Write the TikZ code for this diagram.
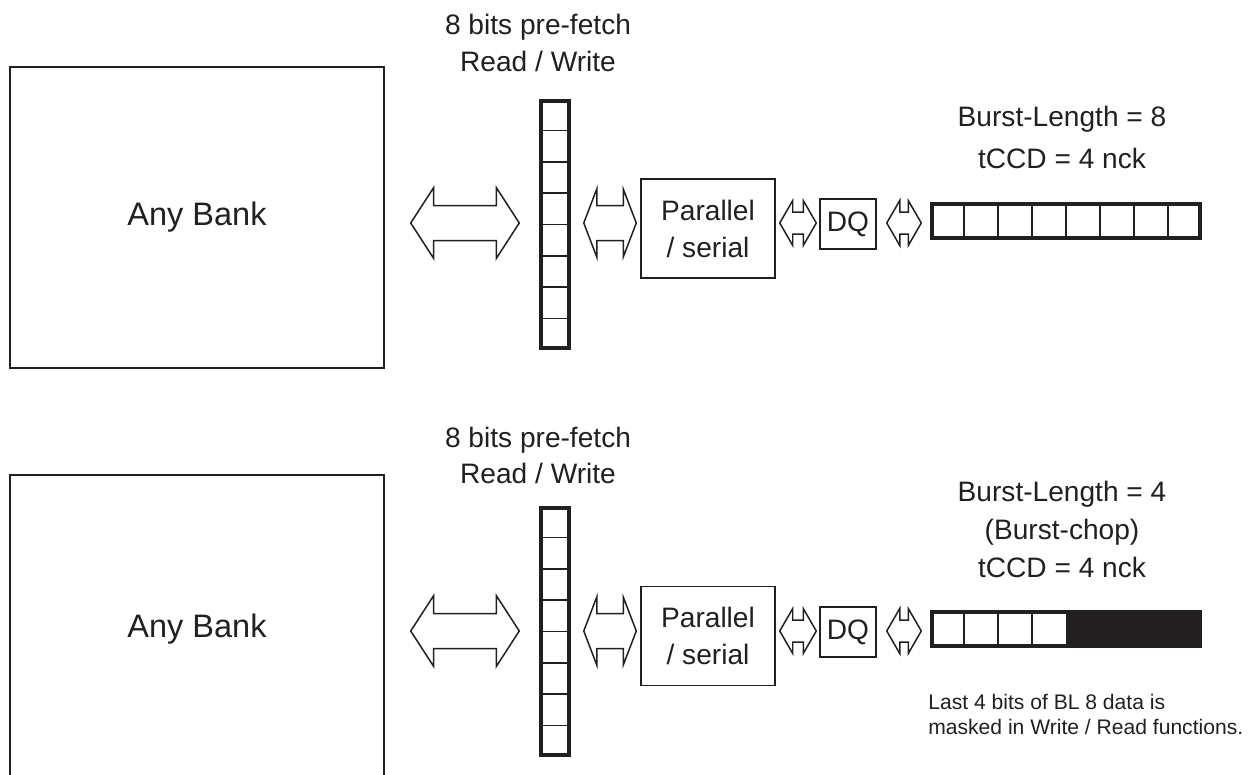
\documentclass[tikz,border=0pt]{standalone}
\usepackage{fontspec}
\setmainfont{Liberation Sans}
\usetikzlibrary{calc}
\definecolor{ink}{HTML}{231F20}
\def\pxu{0.02cm}
% block arrow with two heads between two nodes
% #1,#2 nodes, #3,#4 gaps, #5 head half, #6 shaft half, #7 head length, #8 row
\newcommand{\bidir}[8]{%
  \draw[blk] let \p1=(#1.east), \p2=(#2.west), \p3=(#8) in
    (\x1+#3*\pxu,\y3) -- ++(#7*\pxu,#5*\pxu) -- ++(0pt,{(#6-#5)*\pxu})
    -- (\x2-#4*\pxu-#7*\pxu,\y3+#6*\pxu) -- ++(0pt,{(#5-#6)*\pxu})
    -- (\x2-#4*\pxu,\y3) -- ++(-#7*\pxu,-#5*\pxu) -- ++(0pt,{(#5-#6)*\pxu})
    -- (\x1+#3*\pxu+#7*\pxu,\y3-#6*\pxu) -- ++(0pt,{(#6-#5)*\pxu}) -- cycle;}

\begin{document}
\begin{tikzpicture}[x=0.02cm,y=-0.02cm]
  \tikzset{
    box/.style={draw=ink,line width=0.85pt,inner sep=0pt,text=ink},
    reg/.style={draw=ink,line width=2pt,inner sep=0pt},
    cell/.style={draw=ink,line width=0.85pt},
    blk/.style={draw=ink,line width=0.85pt,fill=white},
    lbl/.style={text=ink,font=\fontsize{16}{21}\selectfont,inner sep=0pt,anchor=base}
  }
  \clip (0,0) rectangle (1256,774);
  % upper: burst length 8
  \coordinate (rowA) at (0,223);
  \node[box,minimum width=7.48cm,minimum height=6.02cm,font=\fontsize{18.5}{22}\selectfont] (bankA) at (197,217.5) {Any Bank};
  \node[reg,minimum width=0.56cm,minimum height=4.94cm] (colA) at (555,224.5) {};
  \foreach \i in {1,...,7}
    \draw[cell] ($(colA.north west)!\i/8!(colA.south west)$) -- ($(colA.north east)!\i/8!(colA.south east)$);
  \node[box,minimum width=2.68cm,minimum height=1.98cm,align=center,font=\fontsize{16}{21}\selectfont] (parA) at (708,228.5) {Parallel\\/ serial};
  \node[box,minimum width=1.12cm,minimum height=1cm,font=\fontsize{16}{21}\selectfont] (dqA) at (848,224) {DQ};
  \node[reg,minimum width=5.36cm,minimum height=0.68cm] (burstA) at (1066,221) {};
  \foreach \i in {1,...,7}
    \draw[cell] ($(burstA.north west)!\i/8!(burstA.north east)$) -- ($(burstA.south west)!\i/8!(burstA.south east)$);
  \bidir{bankA}{colA}{26}{20}{35.5}{17.5}{23}{rowA}
  \bidir{colA}{parA}{13}{4}{34}{17.5}{13}{rowA}
  \bidir{parA}{dqA}{4}{3}{22.5}{11}{13}{rowA}
  \bidir{dqA}{burstA}{10}{9}{22.5}{11}{13}{rowA}
  \node[lbl] (pfA) at (538,34) {8 bits pre-fetch};
  \node[lbl] (rwA) at (538,71) {Read / Write};
  \node[lbl] (blA) at (1062,126) {Burst-Length = 8};
  \node[lbl] (ccdA) at (1062,168) {tCCD = 4 nck};

  % lower: burst chop 4
  \coordinate (rowB) at (0,631);
  \node[box,minimum width=7.48cm,minimum height=6.16cm,font=\fontsize{18.5}{22}\selectfont] (bankB) at (197,629) {Any Bank};
  \node[reg,minimum width=0.56cm,minimum height=4.94cm] (colB) at (555,631.5) {};
  \foreach \i in {1,...,7}
    \draw[cell] ($(colB.north west)!\i/8!(colB.south west)$) -- ($(colB.north east)!\i/8!(colB.south east)$);
  \node[box,minimum width=2.68cm,minimum height=1.98cm,align=center,font=\fontsize{16}{21}\selectfont] (parB) at (708,636) {Parallel\\/ serial};
  \node[box,minimum width=1.12cm,minimum height=1cm,font=\fontsize{16}{21}\selectfont] (dqB) at (848,632) {DQ};
  \node[reg,minimum width=5.36cm,minimum height=0.68cm] (burstB) at (1066,629) {};
  \fill[ink] ($(burstB.north west)!.5!(burstB.north east)$) rectangle (burstB.south east);
  \foreach \i in {1,...,3}
    \draw[cell] ($(burstB.north west)!\i/8!(burstB.north east)$) -- ($(burstB.south west)!\i/8!(burstB.south east)$);
  \bidir{bankB}{colB}{26}{20}{35.5}{17.5}{23}{rowB}
  \bidir{colB}{parB}{13}{4}{34}{17.5}{13}{rowB}
  \bidir{parB}{dqB}{4}{3}{22.5}{11}{13}{rowB}
  \bidir{dqB}{burstB}{10}{9}{22.5}{11}{13}{rowB}
  \node[lbl] (pfB) at (538,447) {8 bits pre-fetch};
  \node[lbl] (rwB) at (538,483) {Read / Write};
  \node[lbl] (blB) at (1062,501) {Burst-Length = 4};
  \node[lbl] (chopB) at (1062,539) {(Burst-chop)};
  \node[lbl] (ccdB) at (1062,577) {tCCD = 4 nck};
  \node[text=ink,font=\fontsize{12}{14}\selectfont,align=left,anchor=north west,inner sep=0pt] (noteB) at (928,694) {Last 4 bits of BL 8 data is\\masked in Write / Read functions.};
\end{tikzpicture}
\end{document}
